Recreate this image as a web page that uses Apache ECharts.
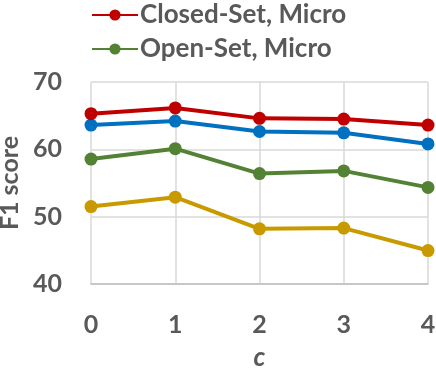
<!DOCTYPE html>
<html><head><meta charset="utf-8">
<script src="https://cdn.jsdelivr.net/npm/echarts@6/dist/echarts.min.js"></script>
<style>html,body{margin:0;padding:0;background:#fff}#c{width:436px;height:368px}</style>
</head><body><div id="c"></div>
<script>
const categories = ['0','1','2','3','4'];
const closedMicro = [65.3, 66.15, 64.6, 64.5, 63.6];
const closedMacro = [63.6, 64.2, 62.65, 62.45, 60.8];
const openMicro = [58.55, 60.1, 56.4, 56.8, 54.35];
const openMacro = [51.5, 52.9, 48.2, 48.3, 44.97];
const yTicks = [40, 50, 60, 70];

const font = 'Lato, "Open Sans", sans-serif';
function mk(name, data, color) {
  return {name, type:'line', data, symbol:'circle', symbolSize:13,
    lineStyle:{width:4, color}, itemStyle:{color}, z: 2};
}
const chart = echarts.init(document.getElementById('c'));
chart.setOption({
  animation:false,
  legend:{orient:'vertical', left:86, top:-3, itemWidth:46, itemHeight:14, itemGap:8,
    data:['Closed-Set, Micro','Open-Set, Micro'],
    textStyle:{fontFamily:font, fontWeight:'bold', fontSize:26, color:'#595959', padding:[0,0,0,-3]}},
  grid:{left:91, right:8, top:82, bottom:84, containLabel:false, outerBoundsMode:'none'},
  xAxis:{type:'category', data:categories, boundaryGap:false,
    name:'c', nameLocation:'middle', nameGap:61,
    nameTextStyle:{fontFamily:font, fontWeight:'bold', fontStyle:'italic', fontSize:26, color:'#595959'},
    axisLine:{lineStyle:{color:'#bfbfbf', width:1.5}}, axisTick:{show:false},
    axisLabel:{fontFamily:font, fontWeight:'bold', fontSize:25, color:'#595959', margin:28},
    splitLine:{show:true, lineStyle:{color:'#d9d9d9', width:1.5}}},
  yAxis:{type:'value', min:40, max:70, interval:10,
    name:'F1 score', nameLocation:'middle', nameGap:68,
    nameTextStyle:{fontFamily:font, fontWeight:'bold', fontSize:25, color:'#595959'},
    axisLine:{show:false}, axisTick:{show:false},
    axisLabel:{fontFamily:font, fontWeight:'bold', fontSize:25, color:'#595959', margin:29,
      formatter: v => yTicks.includes(v) ? String(v) : ''},
    splitLine:{lineStyle:{color:'#d9d9d9', width:1.5}}},
  series:[
    mk('Open-Set, Macro', openMacro, '#c89a00'),
    mk('Open-Set, Micro', openMicro, '#548235'),
    mk('Closed-Set, Macro', closedMacro, '#0070c0'),
    mk('Closed-Set, Micro', closedMicro, '#c00000')
  ]
});
</script></body></html>
